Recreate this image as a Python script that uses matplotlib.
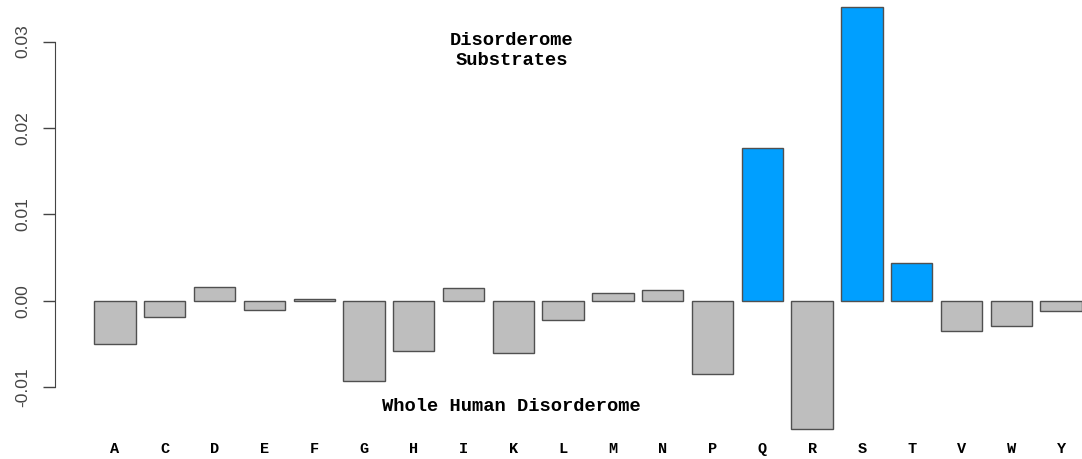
import numpy as np
import matplotlib
matplotlib.use("Agg")
import matplotlib.pyplot as plt

# amino acids and difference in frequency (substrates - whole disorderome)
aa = ['A', 'C', 'D', 'E', 'F', 'G', 'H', 'I', 'K', 'L',
      'M', 'N', 'P', 'Q', 'R', 'S', 'T', 'V', 'W', 'Y']
diff = [-0.0050, -0.0018, 0.0016, -0.0010, 0.0002, -0.0092, -0.0058, 0.0015, -0.0060, -0.0022,
        0.0009, 0.0013, -0.0085, 0.0177, -0.0148, 0.0340, 0.0044, -0.0035, -0.0029, -0.0012]
highlight = ['Q', 'S', 'T']

yticks = [-0.01, 0.00, 0.01, 0.02, 0.03]
ytick_labels = ['-0.01', '0.00', '0.01', '0.02', '0.03']

fig = plt.figure(figsize=(10.82, 4.59), dpi=100)
ax = fig.add_axes([0, 0, 1, 1])

x = np.arange(len(aa))
colors = ['#009FFF' if a in highlight else '#BEBEBE' for a in aa]
ax.bar(x, diff, width=0.83, color=colors, edgecolor='#505050', linewidth=1.0)

ax.set_xlim(-2.31, 19.42)
ax.set_ylim(-0.01827, 0.0348)

# R-style y axis
for s in ['top', 'right', 'bottom']:
    ax.spines[s].set_visible(False)
ax.spines['left'].set_position(('data', -1.205))
ax.spines['left'].set_bounds(-0.01, 0.03)
ax.spines['left'].set_color('#444444')
ax.set_yticks(yticks)
ax.set_yticklabels(ytick_labels, rotation=90, va='center',
                   fontfamily='Liberation Sans', fontsize=12.5, color='#444444')
ax.tick_params(axis='y', length=9, width=1, color='#444444', pad=9)
ax.set_xticks([])

# category labels
for xi, a in zip(x, aa):
    ax.text(xi, -0.0171, a, ha='center', va='center',
            fontfamily='Liberation Mono', fontweight='bold', fontsize=11)

ax.text(7.97, 0.0290, 'Disorderome\nSubstrates', ha='center', va='center',
        fontfamily='Liberation Mono', fontweight='bold', fontsize=13.5, linespacing=1.25)
ax.text(7.97, -0.01225, 'Whole Human Disorderome', ha='center', va='center',
        fontfamily='Liberation Mono', fontweight='bold', fontsize=13.5)

fig.savefig('out.png', dpi=100)
